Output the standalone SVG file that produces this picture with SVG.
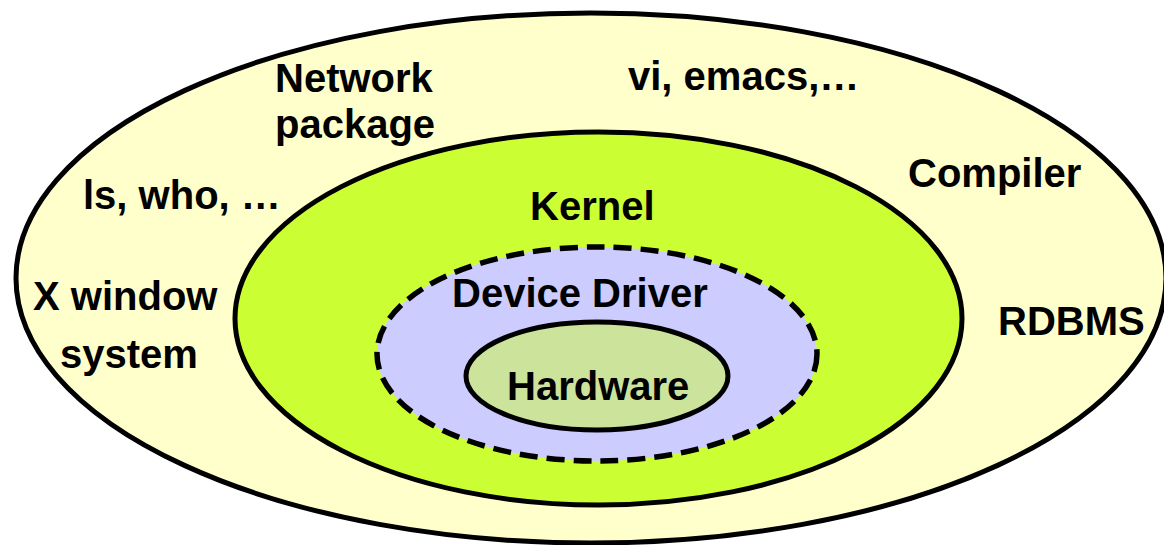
<svg xmlns="http://www.w3.org/2000/svg" width="1164" height="545" viewBox="0 0 1164 545">
<style>
.lbl{font-family:"Liberation Sans",Arial,sans-serif;font-weight:bold;font-size:40px;fill:#000}
.ring{stroke:#000;stroke-width:5}
</style>
<rect width="1164" height="545" fill="#fff"/>
<g id="applications">
<ellipse class="ring" cx="591" cy="278" rx="575" ry="265" fill="#FFFFCC"/>
<text class="lbl" x="275" y="92">Network</text>
<text class="lbl" x="275" y="138">package</text>
<text class="lbl" x="628" y="90">vi, emacs,…</text>
<text class="lbl" x="83" y="209">ls, who, …</text>
<text class="lbl" x="33" y="310">X window</text>
<text class="lbl" x="60" y="368">system</text>
<text class="lbl" x="908" y="187">Compiler</text>
<text class="lbl" x="998" y="335">RDBMS</text>
</g>
<g id="kernel">
<ellipse class="ring" cx="598.5" cy="318.5" rx="363.5" ry="186.5" fill="#CCFF33"/>
<text class="lbl" x="530" y="220">Kernel</text>
</g>
<g id="device-driver">
<ellipse cx="597" cy="354" rx="220" ry="107" fill="#CCCCFF" stroke="#000" stroke-width="5.5" stroke-dasharray="18 9"/>
<text class="lbl" x="452" y="307">Device Driver</text>
</g>
<g id="hardware">
<ellipse cx="597" cy="376" rx="131" ry="54" fill="#CCE39C" stroke="#000" stroke-width="5"/>
<text class="lbl" x="507" y="400">Hardware</text>
</g>
<g id="connectors"></g>
</svg>
